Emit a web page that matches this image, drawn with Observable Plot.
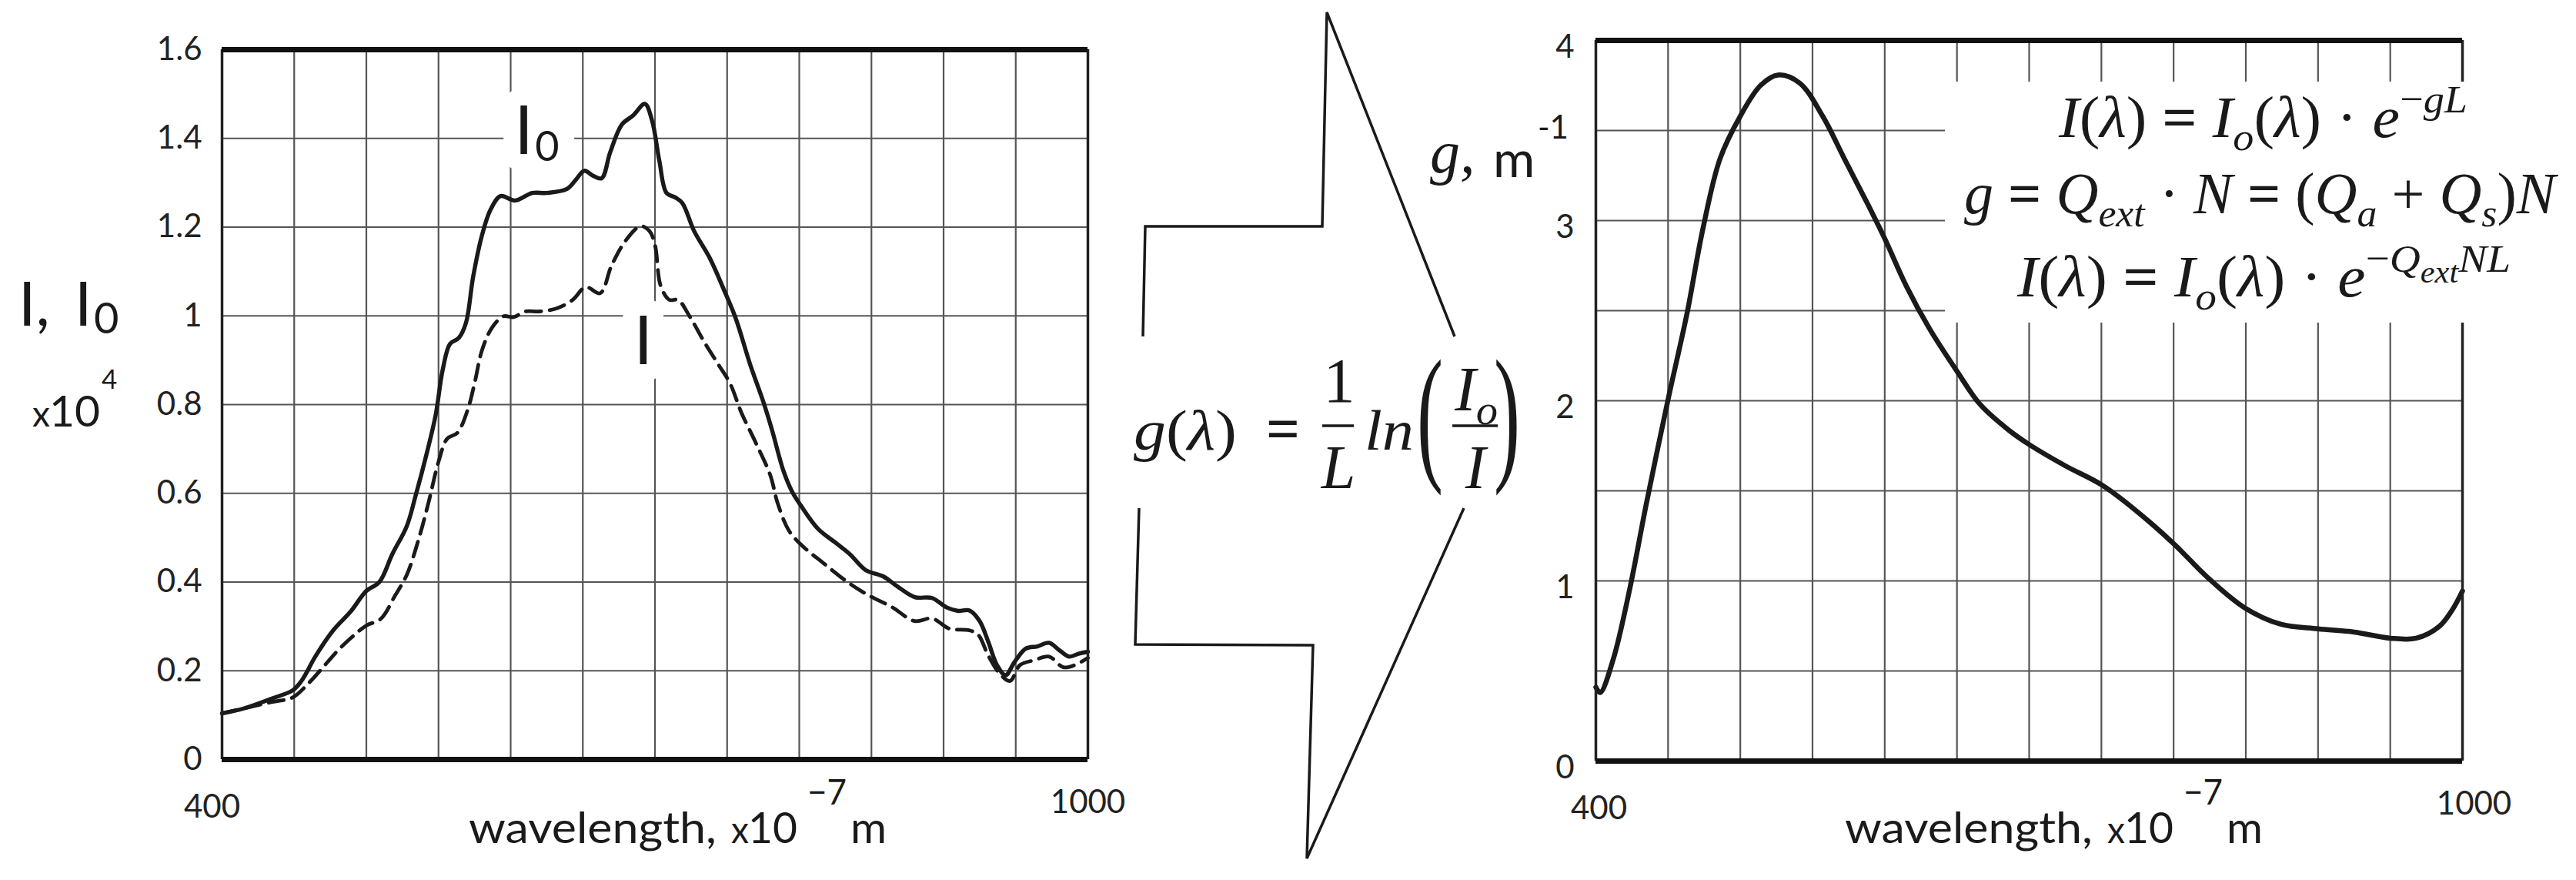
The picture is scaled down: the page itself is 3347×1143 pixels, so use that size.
<!DOCTYPE html>
<html>
<head>
<meta charset="utf-8">
<script src="https://cdn.jsdelivr.net/npm/d3@7"></script>
<script src="https://cdn.jsdelivr.net/npm/@observablehq/plot@0.6"></script>
<style>
html, body { margin: 0; padding: 0; background: #fff; }
#fig { position: relative; width: 3347px; height: 1143px; background: #fff; overflow: hidden; }
#fig svg { position: absolute; top: 0; max-width: none; overflow: visible; }
</style>
</head>
<body>
<div id="fig"></div>
<script>
// ---------- data ----------
const wavelengthI0 = [400,415,435,449,455,465,477,489,500,509,518,528,534,542,548,553,558,564,569,574,580,586,593,603,615,625,639,645,651,657,663,669,677,685,693,698,703,708,714,719,727,738,748,756,766,775,781,789,795,801,813,825,835,846,858,868,880,892,902,910,918,925,931,937,943,949,957,965,973,980,987,994,1000];
const valuesI0 = [0.104,0.115,0.138,0.156,0.177,0.234,0.291,0.333,0.38,0.40,0.463,0.526,0.593,0.692,0.776,0.88,0.937,0.95,0.984,1.088,1.18,1.239,1.27,1.26,1.277,1.277,1.286,1.306,1.327,1.316,1.31,1.369,1.431,1.452,1.478,1.44,1.35,1.277,1.267,1.254,1.192,1.13,1.057,0.994,0.89,0.807,0.744,0.651,0.604,0.573,0.52,0.489,0.463,0.427,0.413,0.39,0.366,0.364,0.343,0.335,0.336,0.312,0.265,0.213,0.19,0.219,0.25,0.255,0.263,0.247,0.232,0.239,0.243];

const wavelengthI = [400,435,449,460,470,480,490,500,510,520,528,536,543,550,556,563,570,575,580,587,595,602,610,620,632,643,652,662,670,680,690,696,700,704,710,716,724,734,744,752,760,770,780,785,793,803,817,833,848,864,880,892,904,918,924,931,939,946,953,963,973,983,991,1000];
const valuesI = [0.104,0.13,0.14,0.172,0.208,0.245,0.276,0.302,0.317,0.37,0.416,0.494,0.578,0.671,0.723,0.736,0.786,0.848,0.921,0.973,0.999,0.997,1.01,1.01,1.017,1.036,1.065,1.051,1.114,1.171,1.202,1.192,1.16,1.067,1.036,1.036,0.999,0.942,0.89,0.848,0.781,0.713,0.64,0.578,0.515,0.479,0.442,0.401,0.37,0.344,0.312,0.318,0.295,0.291,0.281,0.234,0.193,0.177,0.213,0.224,0.232,0.208,0.213,0.229];

const wavelengthG = [400,403,412,423.5,435,450,463,474,486,500,514,526,541,557,572,588,600,615,631,650,666,686,700,725,750,772,800,823,849,874,900,925,950,968,984,993,1000];
const valuesG = [0.41,0.38,0.564,0.957,1.43,2.007,2.48,2.95,3.344,3.58,3.75,3.808,3.764,3.58,3.344,3.095,2.9,2.636,2.4,2.164,1.98,1.836,1.757,1.639,1.534,1.403,1.207,1.023,0.852,0.76,0.734,0.716,0.682,0.682,0.748,0.84,0.944];

const xGrid = [400,450,500,550,600,650,700,750,800,850,900,950,1000];
const xTickLabels = [400, 1000];
const yTicksLeft = [0,0.2,0.4,0.6,0.8,1,1.2,1.4,1.6];
const yTickLabelsLeft = ["0","0.2","0.4","0.6","0.8","1","1.2","1.4","1.6"];
const yGridRight = [0,0.5,1,1.5,2,2.5,3,3.5,4];
const yTicksRight = [0,1,2,3,4];
const curveLabels = [
  {w: 602.5, v: 1.364, main: "I", sub: "0"},
  {w: 685.3, v: 0.891, main: "I", sub: ""}
];

// ---------- styles ----------
const INK = "#1a1a1a";
const GRID = "#555";
const SANS = "Lato, 'Open Sans', sans-serif";
const SERIF = "'Liberation Serif', 'DejaVu Serif', serif";

const rows = (xs, ys) => xs.map((w, i) => ({w, v: ys[i]}));
const I0 = rows(wavelengthI0, valuesI0);
const I = rows(wavelengthI, valuesI);
const G = rows(wavelengthG, valuesG);
const plain = d => String(d);

const fig = document.getElementById("fig");

// ---------- left panel ----------
const halo = {stroke: "white", strokeWidth: 44, fill: "white", paintOrder: "stroke"};
const leftPlot = Plot.plot({
  width: 1460, height: 1143,
  marginLeft: 288, marginRight: 47, marginTop: 64, marginBottom: 157,
  style: {fontFamily: SANS, fontSize: "42px", color: INK, background: "transparent", maxWidth: "none"},
  x: {domain: [400, 1000], label: null},
  y: {domain: [0, 1.6], label: null},
  marks: [
    Plot.ruleX(xGrid, {stroke: GRID, strokeWidth: 2.2}),
    Plot.ruleY(yTicksLeft, {stroke: GRID, strokeWidth: 2.2}),
    Plot.text(curveLabels, {x: "w", y: "v", text: "main", fontSize: 88, textAnchor: "start", lineAnchor: "bottom", ...halo}),
    Plot.text(curveLabels, {x: "w", y: "v", text: "sub", fontSize: 54, textAnchor: "start", lineAnchor: "bottom", dx: 27, dy: 9, ...halo}),
    Plot.text(curveLabels, {x: "w", y: "v", text: "main", fontSize: 88, textAnchor: "start", lineAnchor: "bottom", fill: INK}),
    Plot.text(curveLabels, {x: "w", y: "v", text: "sub", fontSize: 54, textAnchor: "start", lineAnchor: "bottom", dx: 27, dy: 9, fill: INK}),
    Plot.line(I, {x: "w", y: "v", stroke: INK, strokeWidth: 4.8, strokeDasharray: "20,11", curve: "catmull-rom"}),
    Plot.line(I0, {x: "w", y: "v", stroke: INK, strokeWidth: 5.4, curve: "catmull-rom"}),
    Plot.ruleX([400, 1000], {stroke: "#222", strokeWidth: 3.5}),
    Plot.ruleY([0, 1.6], {stroke: "#111", strokeWidth: 7}),
    Plot.axisY({ticks: yTicksLeft, tickSize: 0, tickPadding: 26, tickFormat: (d, i) => yTickLabelsLeft[i], label: null, fontSize: 42, fill: "#222"}),
    Plot.axisX({ticks: [xTickLabels[0]], tickSize: 0, tickPadding: 46, tickFormat: plain, label: null, dx: -13, fontSize: 42, fill: "#222"}),
    Plot.axisX({ticks: [xTickLabels[1]], tickSize: 0, tickPadding: 40, tickFormat: plain, label: null, fontSize: 42, fill: "#222"})
  ]
});
leftPlot.style.left = "0px";
fig.appendChild(leftPlot);

// ---------- right panel ----------
const rightPlot = Plot.plot({
  width: 1447, height: 1143,
  marginLeft: 173, marginRight: 148, marginTop: 52, marginBottom: 155,
  style: {fontFamily: SANS, fontSize: "42px", color: INK, background: "transparent", maxWidth: "none"},
  x: {domain: [400, 1000], label: null},
  y: {domain: [0, 4], label: null},
  marks: [
    Plot.ruleX(xGrid, {stroke: GRID, strokeWidth: 2.2}),
    Plot.ruleY(yGridRight, {stroke: GRID, strokeWidth: 2.2}),
    Plot.line(G, {x: "w", y: "v", stroke: INK, strokeWidth: 6.5, curve: "catmull-rom"}),
    Plot.ruleX([400, 1000], {stroke: "#222", strokeWidth: 3.5}),
    Plot.ruleY([0, 4], {stroke: "#111", strokeWidth: 7}),
    Plot.axisY({ticks: yTicksRight, tickSize: 0, tickPadding: 28, dy: 9, tickFormat: plain, label: null, fontSize: 42, fill: "#222"}),
    Plot.axisX({ticks: [xTickLabels[0]], tickSize: 0, tickPadding: 46, tickFormat: plain, label: null, dx: 4, fontSize: 42, fill: "#222"}),
    Plot.axisX({ticks: [xTickLabels[1]], tickSize: 0, tickPadding: 40, tickFormat: plain, label: null, dx: 15, fontSize: 42, fill: "#222"})
  ]
});
rightPlot.style.left = "1900px";
fig.appendChild(rightPlot);

// ---------- overlay: arrow, formulas, axis titles ----------
const ov = d3.select(fig).append("svg")
  .attr("width", 3347).attr("height", 1143)
  .style("left", "0px").style("pointer-events", "none");

// big outline arrow (decoration)
const arrowParts = [
  [[1485,437],[1488,294],[1718,294],[1724,16],[1890,437]],
  [[1902,660],[1698,1115],[1706,838],[1475,837],[1480,660]]
];
for (const p of arrowParts) {
  ov.append("path").attr("d", d3.line()(p)).attr("fill", "none")
    .attr("stroke", INK).attr("stroke-width", 3.5).attr("stroke-linejoin", "miter");
}

// math text helper: tokens -> tspans, then squeeze horizontally into [x0, x1]
function mathText(parent, tokens, x0, x1, baseline, size, family = SERIF) {
  const t = parent.append("text").attr("x", 0).attr("y", baseline)
    .attr("font-family", family).attr("font-size", size).attr("fill", INK)
    .style("white-space", "pre");
  let cur = 0;
  for (const tok of tokens) {
    const pos = tok.pos || "base";
    const off = pos === "sub" ? 0.22 * size : pos === "sup" ? -0.42 * size : pos === "supsub" ? -0.24 * size : 0;
    const fs = pos === "sub" || pos === "sup" ? 0.68 * size : pos === "supsub" ? 0.52 * size : size;
    t.append("tspan").attr("dy", off - cur).attr("font-size", fs)
      .attr("font-style", tok.i ? "italic" : "normal")
      .attr("font-weight", tok.b ? "bold" : null)
      .text(tok.t);
    cur = off;
  }
  const b = t.node().getBBox();
  const s = (x1 - x0) / b.width;
  t.attr("transform", `translate(${x0},0) scale(${s},1) translate(${-b.x},0)`);
  return t;
}
function centered(x, y, size, txt, italic) {
  return ov.append("text").attr("x", x).attr("y", y).attr("text-anchor", "middle")
    .attr("font-family", SERIF).attr("font-style", italic ? "italic" : "normal")
    .attr("font-size", size).attr("fill", INK).text(txt);
}
function bar(x0, x1, y) {
  ov.append("line").attr("x1", x0).attr("x2", x1).attr("y1", y).attr("y2", y)
    .attr("stroke", INK).attr("stroke-width", 3.4);
}

// central formula  g(λ) = 1/L ln(Io/I)
mathText(ov, [{t:"g",i:1},{t:"("},{t:"λ",i:1},{t:")"}], 1473, 1607, 584, 74);
mathText(ov, [{t:"=",b:1}], 1645, 1689, 584, 80);
centered(1740, 522, 82, "1", false);
bar(1718, 1759, 553);
centered(1739, 634, 80, "L", true);
mathText(ov, [{t:"ln",i:1}], 1773, 1837, 584, 74);
mathText(ov, [{t:"("}], 1841, 1875, 602, 195);
mathText(ov, [{t:"I",i:1},{t:"o",i:1,pos:"sub"}], 1889, 1946, 533, 82);
bar(1887, 1946, 553);
centered(1917, 634, 80, "I", true);
mathText(ov, [{t:")"}], 1941, 1975, 602, 195);

// formula box on the right panel
const EQ = [{t:" "},{t:"=",b:1},{t:" "}];
ov.append("rect").attr("x", 2527).attr("y", 106).attr("width", 810).attr("height", 313).attr("fill", "white");
mathText(ov, [
  {t:"I",i:1},{t:"("},{t:"λ",i:1},{t:")"},...EQ,{t:"I",i:1},{t:"o",i:1,pos:"sub"},{t:"("},{t:"λ",i:1},{t:") · "},
  {t:"e",i:1},{t:"−",pos:"sup"},{t:"gL",i:1,pos:"sup"}
], 2674, 3206, 178, 76);
mathText(ov, [
  {t:"g",i:1},...EQ,{t:"Q",i:1},{t:"ext",i:1,pos:"sub"},{t:" · "},{t:"N",i:1},...EQ,{t:"("},
  {t:"Q",i:1},{t:"a",i:1,pos:"sub"},{t:" + "},{t:"Q",i:1},{t:"s",i:1,pos:"sub"},{t:")"},{t:"N",i:1}
], 2552, 3325, 277, 76);
mathText(ov, [
  {t:"I",i:1},{t:"("},{t:"λ",i:1},{t:")"},...EQ,{t:"I",i:1},{t:"o",i:1,pos:"sub"},{t:"("},{t:"λ",i:1},{t:") · "},
  {t:"e",i:1},{t:"−",pos:"sup"},{t:"Q",i:1,pos:"sup"},{t:"ext",i:1,pos:"supsub"},{t:"NL",i:1,pos:"sup"}
], 2620, 3262, 385, 76);

// left y title  "I, I0"  and "x10^4"
function sansText(x, y, size, txt, anchor = "start") {
  return ov.append("text").attr("x", x).attr("y", y).attr("font-family", SANS)
    .attr("font-size", size).attr("fill", INK).attr("text-anchor", anchor).text(txt);
}
sansText(24, 423, 80, "I,");
sansText(97, 423, 80, "I");
sansText(122, 433, 56, "0");
sansText(42, 554, 46, "x");
sansText(64, 554, 57, "10");
sansText(132, 505, 35, "4");

// right y title "g, m-1"
ov.append("text").attr("x", 1858).attr("y", 224).attr("font-family", SERIF)
  .attr("font-style", "italic").attr("font-size", 78).attr("fill", INK).text("g,");
sansText(1940, 230, 66, "m");
sansText(1998, 180, 42, "-1");

// x titles  "wavelength, x10 −7 m"
function xTitle(offset) {
  mathText(ov, [{t:"wavelength,"}], 609 + offset, 931 + offset, 1095, 57, SANS);
  mathText(ov, [{t:"x"}], 950 + offset, 973 + offset, 1095, 48, SANS);
  mathText(ov, [{t:"10"}], 972 + offset, 1036 + offset, 1095, 57, SANS);
  mathText(ov, [{t:"−7"}], 1049 + offset, 1100 + offset, 1045, 46, SANS);
  mathText(ov, [{t:"m"}], 1105 + offset, 1152 + offset, 1095, 57, SANS);
}
xTitle(0);
xTitle(1788);
</script>
</body>
</html>
